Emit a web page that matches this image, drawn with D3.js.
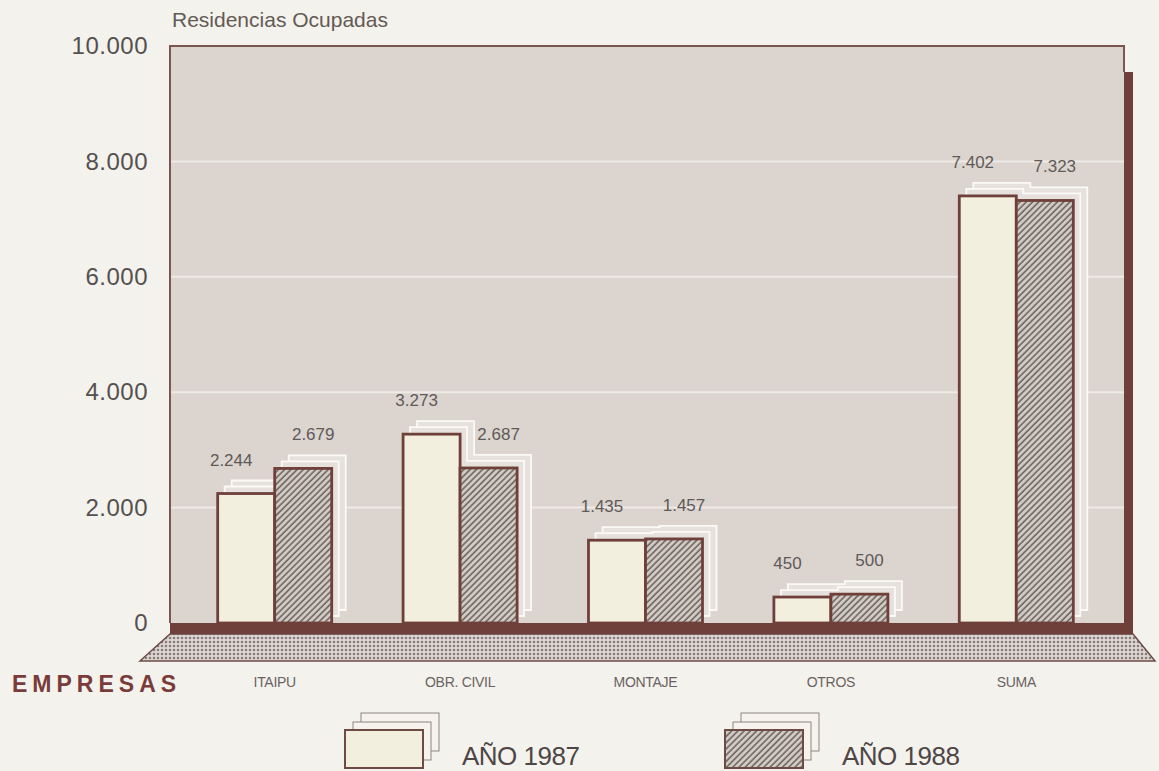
<!DOCTYPE html>
<html>
<head>
<meta charset="utf-8">
<script src="https://cdn.jsdelivr.net/npm/d3@7"></script>
<style>
  body { margin: 0; background: #f4f2ec; }
  svg { display: block; font-family: "Liberation Sans", Arial, sans-serif; }
</style>
</head>
<body>
<svg id="chart" width="1159" height="771"></svg>
<script>
// data
const categories = ["ITAIPU", "OBR. CIVIL", "MONTAJE", "OTROS", "SUMA"];
const series = ["AÑO 1987", "AÑO 1988"];
const values1987 = [2244, 3273, 1435, 450, 7402];
const values1988 = [2679, 2687, 1457, 500, 7323];
const yTicks = [0, 2000, 4000, 6000, 8000, 10000];

const svg = d3.select("#chart");

// panel edges
const panelLeft = 170, panelRight = 1124;
const brown = "#6f3f3a";

const locale = d3.formatLocale({ decimal: ",", thousands: ".", grouping: [3], currency: ["", ""] });
const fmt = locale.format(",d");

const y = d3.scaleLinear().domain([0, 10000]).range([623, 46]);
const x0 = d3.scaleBand().domain(categories).range([182, 1109])
  .paddingInner(0.385).paddingOuter(0.1925);
const x1 = d3.scaleBand().domain(series).range([0, x0.bandwidth()]);

const rows = categories.map((c, i) => ({ cat: c, vals: [values1987[i], values1988[i]] }));

// patterns
const defs = svg.append("defs");
const hatch = defs.append("pattern").attr("id", "hatch")
  .attr("patternUnits", "userSpaceOnUse").attr("width", 4.4).attr("height", 4.4)
  .attr("patternTransform", "rotate(45)");
hatch.append("rect").attr("width", 4.4).attr("height", 4.4).attr("fill", "#d3ccc5");
hatch.append("line").attr("x1", 1).attr("x2", 1).attr("y1", 0).attr("y2", 4.4)
  .attr("stroke", "#6e6461").attr("stroke-width", 1.6);

const dots = defs.append("pattern").attr("id", "dots")
  .attr("patternUnits", "userSpaceOnUse").attr("width", 4).attr("height", 4);
dots.append("rect").attr("width", 4).attr("height", 4).attr("fill", "#ddd6d2");
dots.append("circle").attr("cx", 2).attr("cy", 2).attr("r", 1.3).attr("fill", "#877c79");

// panel background
svg.append("rect").attr("x", panelLeft).attr("y", y(10000))
  .attr("width", panelRight - panelLeft).attr("height", y(0) - y(10000))
  .attr("fill", "#dbd4cf");

// gridlines
svg.append("g").selectAll("line").data(yTicks.filter(d => d > 0 && d < 10000)).join("line")
  .attr("x1", panelLeft).attr("x2", panelRight)
  .attr("y1", d => y(d)).attr("y2", d => y(d))
  .attr("stroke", "#eeeae6").attr("stroke-width", 2);

// panel border: thin top/left, thick right side shadow
svg.append("path")
  .attr("d", `M${panelLeft},${y(0)}V${y(10000)}H${panelRight}V${y(10000) + 26}`)
  .attr("fill", "none").attr("stroke", "#7d5550").attr("stroke-width", 2);
svg.append("rect").attr("x", panelRight).attr("y", y(10000) + 26)
  .attr("width", 9).attr("height", y(0) - y(10000) - 15).attr("fill", brown);

// floor
svg.append("path")
  .attr("d", `M${panelLeft},634L${panelRight + 9},634L${panelRight + 31},661L140,661Z`)
  .attr("fill", "url(#dots)").attr("stroke", "#6e4c48").attr("stroke-width", 1.5);

// stacked page silhouettes behind each pair
const silhouette = r => {
  const gx = x0(r.cat);
  const bw = x1.bandwidth();
  return `M${gx},${y(0)}V${y(r.vals[0])}H${gx + bw}V${y(r.vals[1])}H${gx + 2 * bw}V${y(0)}Z`;
};
[[14, -13], [7, -7]].forEach(off => {
  svg.append("g").attr("transform", `translate(${off[0]},${off[1]})`)
    .selectAll("path").data(rows).join("path")
    .attr("d", silhouette)
    .attr("fill", "#e6e1dc").attr("stroke", "#fcfaf6").attr("stroke-width", 1.8);
});

// bars
const groups = svg.append("g").selectAll("g").data(rows).join("g")
  .attr("transform", d => `translate(${x0(d.cat)},0)`);
groups.selectAll("rect").data(d => d.vals.map((v, i) => ({ s: series[i], v, i }))).join("rect")
  .attr("x", d => x1(d.s)).attr("width", x1.bandwidth())
  .attr("y", d => y(d.v)).attr("height", d => y(0) - y(d.v))
  .attr("fill", d => d.i === 0 ? "#f3efdf" : "url(#hatch)")
  .attr("stroke", brown).attr("stroke-width", 2.8);

// value labels
groups.selectAll("text").data(d => d.vals.map((v, i) => ({ s: series[i], v, i }))).join("text")
  .attr("x", d => x1(d.s) + x1.bandwidth() / 2 + (d.i === 0 ? -15 : 10))
  .attr("y", d => y(d.v) - 28)
  .attr("text-anchor", "middle")
  .attr("font-size", 17).attr("fill", "#5f5a58")
  .text(d => fmt(d.v));

// baseline
svg.append("rect").attr("x", panelLeft).attr("y", y(0))
  .attr("width", panelRight + 9 - panelLeft).attr("height", 11).attr("fill", brown);

// y axis labels
const yAxis = d3.axisLeft(y).tickValues(yTicks).tickFormat(fmt).tickSize(0).tickPadding(0);
const yg = svg.append("g").attr("transform", "translate(148,0)").call(yAxis);
yg.select(".domain").remove();
yg.selectAll("text").attr("font-size", 24).attr("fill", "#555050")
  .attr("font-family", "Liberation Sans, Arial, sans-serif").attr("letter-spacing", 0.5);

// title
svg.append("text").attr("x", 172).attr("y", 27)
  .attr("font-size", 21).attr("fill", "#645a55")
  .text("Residencias Ocupadas");

// category labels
svg.append("g").selectAll("text").data(categories).join("text")
  .attr("x", d => x0(d) + x0.bandwidth() / 2).attr("y", 687)
  .attr("text-anchor", "middle").attr("font-size", 14).attr("fill", "#6a6262")
  .attr("letter-spacing", -0.3)
  .text(d => d);

svg.append("text").attr("x", 12).attr("y", 692)
  .attr("font-size", 23).attr("font-weight", "bold").attr("letter-spacing", 5)
  .attr("fill", "#7a3c3a").text("EMPRESAS");

// legend
const legendX = [345, 725];
const legend = svg.append("g").selectAll("g").data(series).join("g")
  .attr("transform", (d, i) => `translate(${legendX[i]},730)`);
[[16, -17], [8, -8]].forEach(off => {
  legend.append("rect").attr("x", off[0]).attr("y", off[1]).attr("width", 78).attr("height", 38)
    .attr("fill", "#f6f3ed").attr("stroke", "#8c8480").attr("stroke-width", 1);
});
legend.append("rect").attr("width", 78).attr("height", 38)
  .attr("fill", (d, i) => i === 0 ? "#f3efdf" : "url(#hatch)")
  .attr("stroke", "#6e4a45").attr("stroke-width", 2);
legend.append("text").attr("x", 117).attr("y", 35)
  .attr("font-size", 26).attr("fill", "#4e4646").attr("letter-spacing", -0.5)
  .text(d => d);
</script>
</body>
</html>
